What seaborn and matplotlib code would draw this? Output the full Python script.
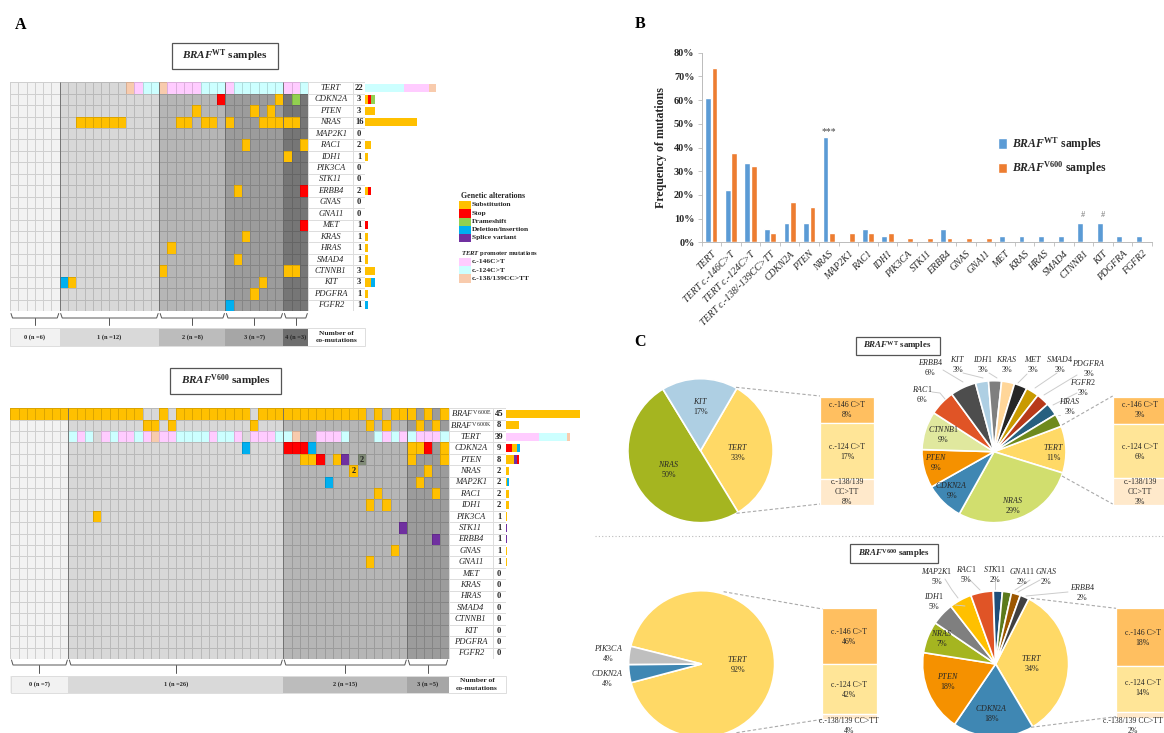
import numpy as np
import pandas as pd
import matplotlib
matplotlib.use("Agg")
import matplotlib.pyplot as plt
import seaborn as sns
from matplotlib.colors import ListedColormap
from matplotlib.patches import Rectangle

W, H = 1164, 733

# ---- panel A, BRAF WT ----
wt_groups = [6, 12, 8, 7, 3]
wt_genes = ["TERT", "CDKN2A", "PTEN", "NRAS", "MAP2K1", "RAC1", "IDH1", "PIK3CA", "STK11", "ERBB4",
            "GNAS", "GNA11", "MET", "KRAS", "HRAS", "SMAD4", "CTNNB1", "KIT", "PDGFRA", "FGFR2"]
wt_counts = [22, 3, 3, 16, 0, 2, 1, 0, 0, 2, 0, 0, 1, 1, 1, 1, 3, 3, 1, 1]
wt_sub = {"CDKN2A": [32], "PTEN": [22, 29, 31],
          "NRAS": [8, 9, 10, 11, 12, 13, 20, 21, 23, 24, 26, 30, 31, 32, 33, 34],
          "RAC1": [28, 35], "IDH1": [33], "ERBB4": [27], "KRAS": [28], "HRAS": [19], "SMAD4": [27],
          "CTNNB1": [18, 33, 34], "KIT": [7, 30], "PDGFRA": [29]}
wt_stop = {"CDKN2A": [25], "ERBB4": [35], "MET": [35]}
wt_frameshift = {"CDKN2A": [34]}
wt_del = {"KIT": [6], "FGFR2": [26]}
wt_tert146 = {"TERT": [15, 19, 20, 21, 22, 26, 33, 34]}
wt_tert124 = {"TERT": [16, 17, 23, 24, 25, 27, 28, 29, 30, 31, 32, 35]}
wt_tert138 = {"TERT": [14, 18]}

# ---- panel A, BRAF V600 ----
v600_groups = [7, 26, 15, 5]
v600_genes = ["V600E", "V600K", "TERT", "CDKN2A", "PTEN", "NRAS", "MAP2K1", "RAC1", "IDH1", "PIK3CA", "STK11",
              "ERBB4", "GNAS", "GNA11", "MET", "KRAS", "HRAS", "SMAD4", "CTNNB1", "KIT", "PDGFRA", "FGFR2"]
v600_labels = [r"$\mathit{BRAF}^{\mathrm{V600E}}$", r"$\mathit{BRAF}^{\mathrm{V600K}}$"] + v600_genes[2:]
v600_counts = [45, 8, 39, 9, 8, 2, 2, 2, 2, 1, 1, 1, 1, 1, 0, 0, 0, 0, 0, 0, 0, 0]
v600k_cols = [16, 17, 19, 29, 43, 45, 49, 51]
v600_sub = {"V600E": [i for i in range(53) if i not in v600k_cols], "V600K": v600k_cols,
            "CDKN2A": [48, 49, 52], "PTEN": [35, 36, 39, 48, 52], "NRAS": [41, 50], "MAP2K1": [49],
            "RAC1": [44, 51], "IDH1": [43, 45], "PIK3CA": [10], "GNAS": [46], "GNA11": [43]}
v600_stop = {"CDKN2A": [33, 34, 35, 50], "PTEN": [37]}
v600_del = {"CDKN2A": [28, 36], "MAP2K1": [38]}
v600_splice = {"PTEN": [40], "STK11": [47], "ERBB4": [51]}
v600_mixed = {"PTEN": [42]}
v600_tert146 = {"TERT": [8, 11, 13, 14, 16, 18, 19, 24, 27, 29, 30, 31, 37, 38, 39, 45, 47, 49, 50, 51]}
v600_tert124 = {"TERT": [7, 9, 12, 15, 20, 21, 22, 23, 25, 26, 32, 33, 40, 44, 46, 48, 52]}
v600_tert138 = {"TERT": [17, 34]}

# ---- panel B ----
freq_genes = ["TERT", "TERT c.-146C>T", "TERT c.-124C>T", "TERT c.-138/-139CC>TT", "CDKN2A", "PTEN", "NRAS",
              "MAP2K1", "RAC1", "IDH1", "PIK3CA", "STK11", "ERBB4", "GNAS", "GNA11", "MET", "KRAS", "HRAS",
              "SMAD4", "CTNNB1", "KIT", "PDGFRA", "FGFR2"]
freq_wt = [61, 22.2, 33.3, 5.5, 8.3, 8.3, 44.4, 0, 5.5, 2.8, 0, 0, 5.5, 0, 0, 2.8, 2.8, 2.8, 2.8, 8.3, 8.3, 2.8, 2.8]
freq_v600 = [73.6, 37.7, 32, 3.8, 17, 15, 3.8, 3.8, 3.8, 3.8, 1.9, 1.9, 1.9, 1.9, 1.9, 0, 0, 0, 0, 0, 0, 0, 0]

# ---- panel C ----
pie1_vals = [33, 50, 17]
pie1_cols = ["#FFD966", "#A5B520", "#AECFE3"]
pie2_vals = [11, 29, 9, 9, 9, 6, 6, 3, 3, 3, 3, 3, 3, 3, 3]
pie2_cols = ["#FFD966", "#D1DE6E", "#3F87B3", "#F59100", "#E0E89E", "#E05426", "#4D4D4D", "#AECFE3",
             "#7F7F7F", "#FFD699", "#262626", "#C99A00", "#B83A1A", "#27607F", "#6F8A1C"]
pie3_vals = [92, 4, 4]
pie3_cols = ["#FFD966", "#3F87B3", "#BFBFBF"]
pie4_vals = [34, 18, 18, 7, 5, 5, 5, 2, 2, 2, 2]
pie4_cols = ["#FFD966", "#3F87B3", "#F59100", "#A5B520", "#7F7F7F", "#FFC000", "#E05426", "#1F4E79",
             "#5B7A1C", "#9C5700", "#404040"]
split_cols = ["#FFBF60", "#FFE597", "#FFE9CB"]
split1 = [8, 17, 8]
split2 = [3, 6, 3]
split3 = [46, 42, 4]
split4 = [18, 14, 2]

sns.set_theme(style="white")
plt.rcParams["font.family"] = ["Liberation Serif", "DejaVu Serif"]
plt.rcParams["mathtext.fontset"] = "custom"
plt.rcParams["mathtext.rm"] = "Liberation Serif"
plt.rcParams["mathtext.it"] = "Liberation Serif:italic"
plt.rcParams["mathtext.bf"] = "Liberation Serif:bold"
plt.rcParams["mathtext.bfit"] = "Liberation Serif:italic:bold"

TXT = "#262626"
# background shade for each co-mutation group, then the alteration colours
grid_pal = ["#F2F2F2", "#D8D8D8", "#B6B6B6", "#9C9C9C", "#767676"]
alt_pal = ["#FFC000", "#FF0000", "#92D050", "#00B0F0", "#7030A0", "#FFCCFF", "#CCFFFF", "#F8CBAD", "#7F8A76"]
cmap = ListedColormap(grid_pal + alt_pal)
SUB, STOP, FRAME, DEL, SPLICE, T146, T124, T138, MIXED = range(5, 14)

fig = plt.figure(figsize=(W / 100, H / 100), dpi=100)


def ax_px(x0, y0, x1, y1, **kw):
    return fig.add_axes([x0 / W, 1 - y1 / H, (x1 - x0) / W, (y1 - y0) / H], **kw)


over = fig.add_axes([0, 0, 1, 1], zorder=10)
over.set_xlim(0, W)
over.set_ylim(H, 0)
over.axis("off")
over.patch.set_alpha(0)


def label(x, y, s, size=5.4, **kw):
    kw.setdefault("color", TXT)
    over.text(x, y, s, fontsize=size, ha=kw.pop("ha", "center"), va=kw.pop("va", "center"), **kw)


def box(x0, y0, x1, y1, s, size):
    over.add_patch(Rectangle((x0, y0), x1 - x0, y1 - y0, fc="white", ec="#555555", lw=0.9))
    label((x0 + x1) / 2, (y0 + y1) / 2, s, size, fontweight="bold")


def oncoprint(groups, genes, labels, counts, tables, x, xn, xc, xb, unit, y0, y1, strip, brk):
    n_col = sum(groups)
    col_group = np.repeat(np.arange(len(groups)), groups)
    mat = np.tile(col_group, (len(genes), 1))
    for code, table in tables:
        for gene, cols in table.items():
            mat[genes.index(gene), cols] = code

    ax = ax_px(x, y0, xn, y1)
    sns.heatmap(mat, ax=ax, cmap=cmap, vmin=-0.5, vmax=13.5, cbar=False, linewidths=0.4,
                linecolor=(0, 0, 0, 0.14), xticklabels=False, yticklabels=False)
    edges = np.cumsum(groups)[:-1]
    ax.vlines(edges, 0, len(genes), color="#6a6a6a", lw=0.6)

    # gene names and counts
    white = ListedColormap(["white"])
    blank = np.zeros((len(genes), 1))
    ax_n = ax_px(xn, y0, xc, y1)
    sns.heatmap(blank, ax=ax_n, cmap=white, cbar=False, linewidths=0.5, linecolor="#dddddd",
                xticklabels=False, yticklabels=False,
                annot=np.array(labels).reshape(-1, 1), fmt="",
                annot_kws={"fontsize": 6.2, "fontstyle": "italic", "color": TXT})
    ax_c = ax_px(xc, y0, xb, y1)
    sns.heatmap(blank, ax=ax_c, cmap=white, cbar=False, linewidths=0.5, linecolor="#dddddd",
                xticklabels=False, yticklabels=False,
                annot=np.array(counts).reshape(-1, 1), fmt="d",
                annot_kws={"fontsize": 6.2, "fontweight": "bold", "color": TXT})

    # stacked totals, biggest part first
    ax_b = ax_px(xb, y0, xb + 60 * unit, y1)
    for r in range(len(genes)):
        vals, cnt = np.unique(np.where(mat[r] == MIXED, SPLICE, mat[r]), return_counts=True)
        parts = [(c, v) for v, c in zip(vals, cnt) if v >= SUB]
        parts.sort(key=lambda p: -p[0])
        left = 0
        for c, v in parts:
            ax_b.barh(r + 0.5, c, left=left, height=0.72, color=cmap(int(v)), lw=0)
            left += c
    ax_b.set_xlim(0, 60)
    ax_b.set_ylim(len(genes), 0)
    ax_b.axis("off")

    # group strip under the grid
    ax_s = ax_px(x, strip[0], xn, strip[1])
    strip_pal = ListedColormap(["#F2F2F2", "#D9D9D9", "#BCBCBC", "#A6A6A6", "#6E6E6E"])
    sns.heatmap(col_group.reshape(1, -1), ax=ax_s, cmap=strip_pal, vmin=-0.5, vmax=4.5, cbar=False,
                xticklabels=False, yticklabels=False)
    over.add_patch(Rectangle((x, strip[0]), xb - x, strip[1] - strip[0], fc="none", ec="#dddddd", lw=0.7))
    label((xn + xb) / 2, sum(strip) / 2, "Number of\nco-mutations", 5.4, fontweight="bold", linespacing=1.5)
    starts = np.r_[0, np.cumsum(groups)]
    cw = (xn - x) / n_col
    for g, n in enumerate(groups):
        a, b = x + starts[g] * cw, x + starts[g + 1] * cw
        label((a + b) / 2, sum(strip) / 2, f"{g} (n ={n})", 4.6, fontweight="bold")
        over.plot([a + 1, a + 2.5, b - 2.5, b - 1], [brk[0], brk[1], brk[1], brk[0]], color="#555555", lw=0.7)
        over.plot([(a + b) / 2] * 2, [brk[1], brk[2]], color="#555555", lw=0.7)
    return ax


oncoprint(wt_groups, wt_genes, wt_genes, wt_counts,
          [(SUB, wt_sub), (STOP, wt_stop), (FRAME, wt_frameshift), (DEL, wt_del),
           (T146, wt_tert146), (T124, wt_tert124), (T138, wt_tert138)],
          10, 308.3, 353.3, 365, 3.22, 82.3, 311, (328, 345.7), (313.5, 318, 325))
ax_v = oncoprint(v600_groups, v600_genes, v600_labels, v600_counts,
                 [(SUB, v600_sub), (STOP, v600_stop), (DEL, v600_del), (SPLICE, v600_splice), (MIXED, v600_mixed),
                  (T146, v600_tert146), (T124, v600_tert124), (T138, v600_tert138)],
                 10.5, 448.6, 493, 505.5, 1.656, 408.3, 659, (675.7, 693.3), (660, 665, 673))
ax_v.text(41.5, v600_genes.index("NRAS") + 0.5, "2", fontsize=6, fontweight="bold", ha="center", va="center", color="#222222")
ax_v.text(42.5, v600_genes.index("PTEN") + 0.5, "2", fontsize=6, fontweight="bold", ha="center", va="center", color="#222222")

box(172, 43, 278, 69, r"$\mathbfit{BRAF}^{\mathbf{WT}}$ samples", 8)
box(170, 368, 281, 393.5, r"$\mathbfit{BRAF}^{\mathbf{V600}}$ samples", 8)
label(21, 25, "A", 11.5, fontweight="bold", color="black")
label(640, 24, "B", 11.5, fontweight="bold", color="black")
label(640, 342, "C", 11.5, fontweight="bold", color="black")

# alteration legend
label(461, 196, "Genetic alterations", 5.7, ha="left", fontweight="bold")
legend_rows = [("Substitution", SUB), ("Stop", STOP), ("Frameshift", FRAME), ("Deletion/insertion", DEL), ("Splice variant", SPLICE)]
for i, (name, code) in enumerate(legend_rows):
    over.add_patch(Rectangle((459.3, 201 + i * 8.25), 11.4, 8.25, fc=cmap(code), lw=0))
    label(472, 205 + i * 8.25, name, 5.4, ha="left", fontweight="bold")
label(461, 253.5, r"$\mathbfit{TERT}$ promoter mutations", 4.8, ha="left", fontweight="bold")
tert_rows = [("c.-146C>T", T146), ("c.-124C>T", T124), ("c.-138/139CC>TT", T138)]
for i, (name, code) in enumerate(tert_rows):
    over.add_patch(Rectangle((459.3, 257.7 + i * 8.3), 11.4, 8.3, fc=cmap(code), lw=0))
    label(472, 261.7 + i * 8.3, name, 5.4, ha="left", fontweight="bold")

# ---- panel B bars ----
freq = pd.DataFrame({
    "gene": freq_genes * 2,
    "value": freq_wt + freq_v600,
    "series": [r"$\mathbfit{BRAF}^{\mathbf{WT}}$ samples"] * len(freq_genes)
              + [r"$\mathbfit{BRAF}^{\mathbf{V600}}$ samples"] * len(freq_genes),
})
ax_f = ax_px(701.5, 52.7, 1152, 242.3)
sns.barplot(data=freq, x="gene", y="value", hue="series", palette=["#5B9BD5", "#ED7D31"], saturation=1,
            width=0.66, gap=0.1, ax=ax_f)
ax_f.set_xlim(-0.5, len(freq_genes) - 0.5)
ax_f.set_ylim(0, 80)
ax_f.set_yticks(np.arange(0, 81, 10))
ax_f.set_yticklabels([f"{v}%" for v in range(0, 81, 10)], fontsize=7.4, fontweight="bold", color=TXT)
ax_f.set_xticks(range(len(freq_genes)))
ax_f.set_xticklabels(freq_genes, rotation=45, ha="right", rotation_mode="anchor", fontsize=7,
                     fontstyle="italic", color=TXT)
ax_f.set_xticks(np.arange(-0.5, len(freq_genes)), minor=True)
ax_f.tick_params(axis="x", which="major", length=0, pad=5)
ax_f.tick_params(axis="x", which="minor", length=3, width=0.6, color="#bbbbbb", bottom=True)
ax_f.tick_params(axis="y", length=3, width=0.6, color="#bbbbbb", left=True, pad=2)
ax_f.set_xlabel("")
ax_f.set_ylabel("Frequency of mutations", fontsize=8.6, fontweight="bold", color=TXT, labelpad=5)
sns.despine(ax=ax_f)
for s in ("left", "bottom"):
    ax_f.spines[s].set_color("#bbbbbb")
    ax_f.spines[s].set_linewidth(0.7)
ax_f.text(freq_genes.index("NRAS"), 46.5, "***", fontsize=7, ha="center", va="center", color="#444444")
ax_f.text(freq_genes.index("CTNNB1"), 11.6, "#", fontsize=6, ha="center", va="center", color="#777777")
ax_f.text(freq_genes.index("KIT"), 11.6, "#", fontsize=6, ha="center", va="center", color="#777777")
ax_f.legend(loc="upper left", bbox_to_anchor=(987 / W, 1 - 125 / H), bbox_transform=fig.transFigure, frameon=False,
            prop={"size": 8.5, "weight": "bold"}, handlelength=0.8, handleheight=1.0, handletextpad=0.4,
            labelspacing=0.55, labelcolor=TXT)


# ---- panel C pies ----
def pie(cx, cy, rx, ry, vals, cols, start):
    ax = ax_px(cx - rx, cy - ry, cx + rx, cy + ry)
    ax.pie(vals, colors=cols, startangle=start, counterclock=False, radius=1,
           wedgeprops={"edgecolor": "white", "linewidth": 1.2})
    ax.set_aspect("auto")
    ax.set_xlim(-1, 1)
    ax.set_ylim(-1, 1)


def split_bar(x0, x1, y0, y1, vals):
    ax = ax_px(x0, y0, x1, y1)
    bottom = 0
    for v, c in zip(vals, split_cols):
        ax.bar(0, v, bottom=bottom, width=1, color=c, edgecolor="white", linewidth=0.9)
        bottom += v
    ax.set_xlim(-0.5, 0.5)
    ax.set_ylim(sum(vals), 0)
    ax.axis("off")


pie(700.5, 450.7, 72.6, 72, pie1_vals, pie1_cols, 60)
pie(994, 451.7, 72, 71, pie2_vals, pie2_cols, 21)
pie(701.6, 664, 73, 73.3, pie3_vals, pie3_cols, 166)
pie(995.6, 664, 73, 73, pie4_vals, pie4_cols, 63)
split_bar(820, 874, 396.7, 505, split1)
split_bar(1113, 1167, 396.7, 505, split2)
split_bar(822.4, 877.3, 608.3, 719, split3)
split_bar(1116, 1170, 608.3, 718, split4)

dash = {"color": "#aaaaaa", "lw": 0.8, "ls": (0, (3, 2))}
for xs, ys in [((736, 820), (387.3, 396)), ((736.4, 820), (513.3, 504)),
               ((1062, 1112.7), (425, 396)), ((1062, 1112.7), (476, 504)),
               ((723.6, 822.4), (591.7, 609)), ((736.4, 822.4), (732.7, 719.3)),
               ((1031, 1116), (598.3, 608.3)), ((1031, 1116), (727.3, 716.7))]:
    over.plot(xs, ys, **dash)
over.plot([595, 1164], [536, 536], color="#bbbbbb", lw=0.8, ls=(0, (1, 2)))

# leader lines for the small slices
lead = {"color": "#cccccc", "lw": 0.7}
for xs, ys in [((932, 940, 945), (392, 393, 399)), ((943, 963), (370, 382)), ((963, 983), (373, 378)),
               ((989, 997), (373, 378)), ((1027, 1018), (374, 383)), ((1057, 1035), (373, 388)),
               ((1077, 1044), (375, 395)), ((1077, 1053), (393, 405)), ((1060, 1058), (415, 415)),
               ((945, 952, 958), (579, 590, 598)), ((968, 980), (578, 590)),
               ((1030, 1015), (580, 590)), ((1040, 1018), (580, 592)), ((1068, 1026), (592, 596)),
               ((994.5, 994.5), (579, 589)), ((955, 965), (605, 606))]:
    over.plot(xs, ys, **lead)


def gene_txt(x, y, name, pct, size=5.8):
    label(x, y, rf"$\mathit{{{name}}}$" + "\n" + pct, size, linespacing=1.35)


box(855.7, 336.7, 939.6, 355, r"$\mathbfit{BRAF}^{\mathbf{WT}}$ samples", 6.4)
box(850, 544, 937.7, 562.7, r"$\mathbfit{BRAF}^{\mathbf{V600}}$ samples", 6.4)

for x, y, n, p in [(700.5, 406, "KIT", "17%"), (738, 452, "TERT", "33%"), (669, 469, "NRAS", "50%"),
                   (1053.8, 451.7, "TERT", "11%"), (1012.8, 505, "NRAS", "29%"), (951.6, 490, "CDKN2A", "9%"),
                   (936, 462, "PTEN", "9%"), (943, 434, "CTNNB1", "9%"), (922, 394, "RAC1", "6%"),
                   (930.4, 367, "ERBB4", "6%"), (958, 364, "KIT", "3%"), (982.8, 364, "IDH1", "3%"),
                   (1007, 364, "KRAS", "3%"), (1033, 364, "MET", "3%"), (1060, 364, "SMAD4", "3%"),
                   (1088.5, 368.3, "PDGFRA", "3%"), (1083.4, 386.7, "FGFR2", "3%"), (1070, 406, "HRAS", "3%"),
                   (738, 664, "TERT", "92%"), (608.3, 653, "PIK3CA", "4%"), (607.6, 678, "CDKN2A", "4%"),
                   (1032, 663, "TERT", "34%"), (991.5, 713, "CDKN2A", "18%"), (948, 681, "PTEN", "18%"),
                   (941.4, 638, "NRAS", "7%"), (934, 600.7, "IDH1", "5%"), (936.6, 575.7, "MAP2K1", "5%"),
                   (966.3, 574, "RAC1", "5%"), (994.5, 574, "STK11", "2%"), (1022, 575.7, "GNA11", "2%"),
                   (1045.7, 575.7, "GNAS", "2%"), (1082.3, 592.3, "ERBB4", "2%")]:
    gene_txt(x, y, n, p)

for x, y, s in [(847, 410, "c.-146 C>T\n8%"), (847, 451.7, "c.-124 C>T\n17%"), (847, 492, "c.-138/139\nCC>TT\n8%"),
                (1140, 410, "c.-146 C>T\n3%"), (1140, 451.7, "c.-124 C>T\n6%"), (1140, 492, "c.-138/139\nCC>TT\n3%"),
                (848.8, 636.7, "c.-146 C>T\n46%"), (848.8, 690, "c.-124 C>T\n42%"), (848.8, 726, "c.-138/139 CC>TT\n4%"),
                (1142.7, 637.7, "c.-146 C>T\n18%"), (1142.7, 688, "c.-124 C>T\n14%"), (1133, 726, "c.-138/139 CC>TT\n2%")]:
    label(x, y, s, 5.6, linespacing=1.35)

fig.savefig("out.png", dpi=100)
